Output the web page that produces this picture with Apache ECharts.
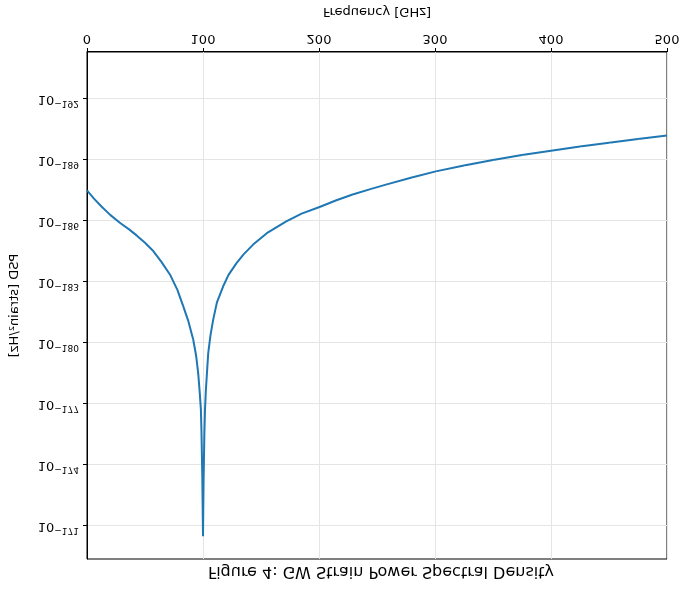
<!DOCTYPE html>
<html><head><meta charset="utf-8">
<script src="https://cdn.jsdelivr.net/npm/echarts@6/dist/echarts.min.js"></script>
<style>html,body{margin:0;padding:0;background:#fff}#c{width:690px;height:590px;transform:scaleY(-1)}</style>
</head><body><div id="c"></div>
<script>
// Frequency (GHz) and log10 of PSD (strain^2/Hz)
const freqs = [0,6,12.9,20,28.6,36,43,50,57.3,64,71.6,78,83,87.5,91.6,94,95.9,97.4,98.2,98.7,99.4,100,100.5,101.2,101.7,102.5,104.5,106.5,108.8,112,117.4,122,128.9,135,143.2,155,171.8,185,200.5,215,229,245,257.7,280,300.7,325,350,375,400,425,450,475,500];
const log10PSD = [-187.51,-187.1,-186.69,-186.3,-185.9,-185.6,-185.28,-184.93,-184.51,-184.0,-183.36,-182.6,-181.8,-181.05,-180.16,-179.4,-178.5,-177.4,-176.7,-175.6,-173.4,-170.5,-173.2,-175.6,-176.7,-177.7,-179.5,-180.4,-181.15,-182.0,-182.79,-183.35,-183.93,-184.36,-184.84,-185.4,-185.98,-186.36,-186.69,-187.02,-187.3,-187.58,-187.79,-188.14,-188.44,-188.73,-189.0,-189.24,-189.45,-189.66,-189.85,-190.03,-190.2];
const xTicks = [0,100,200,300,400,500];
const yTicks = [-192,-189,-186,-183,-180,-177,-174,-171];

const F = 'DejaVu Sans';
const chart = echarts.init(document.getElementById('c'));
chart.setOption({
  animation:false,
  title:{text:'Figure 4: GW Strain Power Spectral Density',left:376,textAlign:'center',top:6,
    textStyle:{fontFamily:F,fontSize:16,fontWeight:'normal',color:'#000'}},
  grid:{left:85,right:23,top:31,bottom:52,show:true,borderColor:'#000',borderWidth:1,backgroundColor:'transparent'},
  xAxis:{type:'value',min:0,max:500,interval:100,name:'Frequency [GHz]',nameLocation:'middle',nameGap:34,
    nameTextStyle:{fontFamily:F,fontSize:13,color:'#000'},
    axisLine:{lineStyle:{color:'#000'}},axisTick:{length:4,lineStyle:{color:'#000'}},
    axisLabel:{fontFamily:F,fontSize:13,color:'#000',margin:7},
    splitLine:{show:true,lineStyle:{color:'#e5e5e5'}}},
  yAxis:{type:'value',min:-194.31,max:-169.38,name:'PSD [strain²/Hz]',nameLocation:'middle',nameGap:66,
    nameTextStyle:{fontFamily:F,fontSize:13,color:'#000'},
    axisLine:{show:true,lineStyle:{color:'#000'}},axisTick:{show:true,length:4,customValues:yTicks,lineStyle:{color:'#000'}},
    axisLabel:{customValues:yTicks,margin:8,formatter:v=>'{b|10}{s|−'+Math.abs(Math.round(v))+'}',
      rich:{b:{fontFamily:F,fontSize:13,color:'#000'},s:{fontFamily:F,fontSize:9,color:'#000',padding:[0,0,8,0]}}},
    splitLine:{show:true,lineStyle:{color:'#e5e5e5'}}},
  series:[{type:'line',data:freqs.map((f,i)=>[f,log10PSD[i]]),showSymbol:false,smooth:false,
    lineStyle:{color:'#1f77b4',width:2}}]
});
</script></body></html>
